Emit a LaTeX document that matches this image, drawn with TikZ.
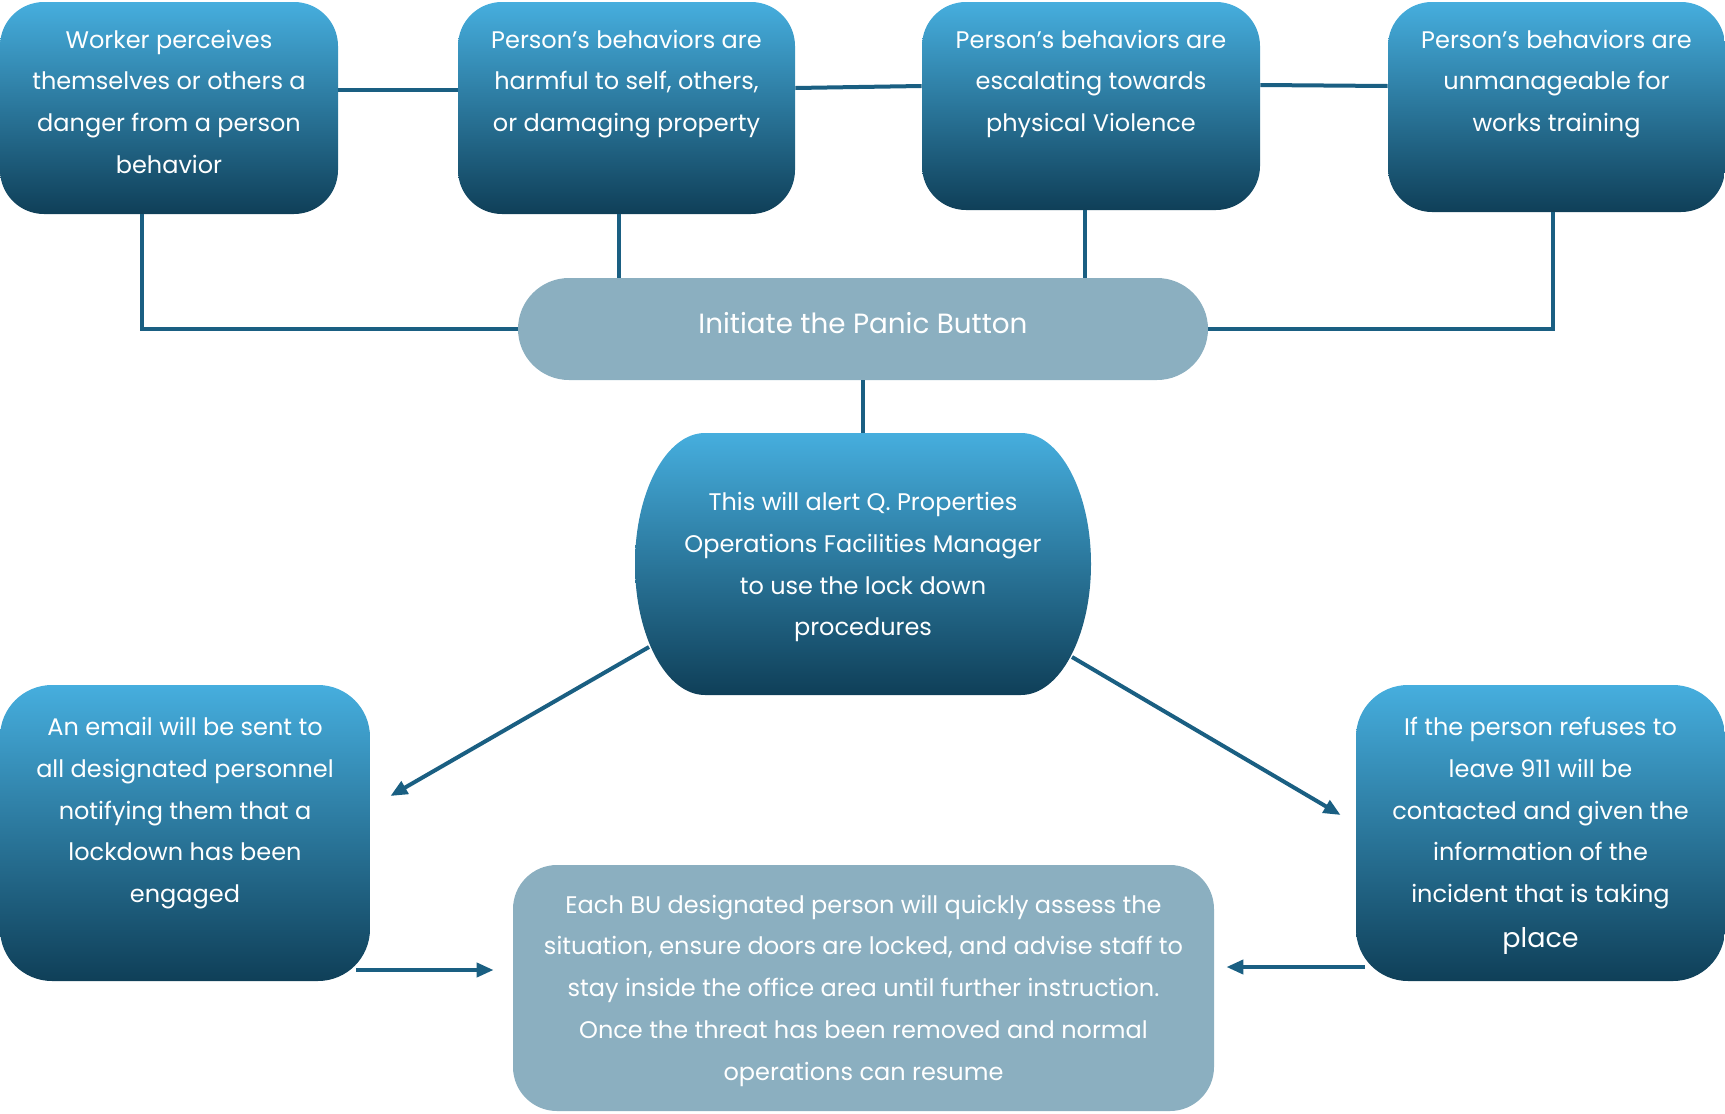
\documentclass[tikz,border=0pt]{standalone}
\usepackage{fontspec}
\setmainfont{Poppins}
\usepackage{xcolor}
\usepackage{tikz}
\usetikzlibrary{arrows.meta,calc}

\definecolor{topblue}{HTML}{46AEDE}
\definecolor{midblue}{HTML}{1E6E93}
\definecolor{botblue}{HTML}{0F3F58}
\definecolor{panelgrey}{HTML}{8BAFC0}
\definecolor{linkblue}{HTML}{1A5F82}

\newcommand{\boxlines}[4]{\parbox[c][#1][t]{#2}{\centering\rule{0pt}{#3}#4}}

\begin{document}
\begin{tikzpicture}[x=0.5pt,y=-0.5pt,>=Latex,
    bluebox/.style={rounded corners=22pt,top color=topblue,middle color=midblue,bottom color=botblue,
      inner sep=0pt,text=white,font=\fontsize{12}{20.9}\selectfont},
    greybox/.style={rounded corners=22pt,fill=panelgrey,inner sep=0pt,text=white,
      font=\fontsize{12}{20.9}\selectfont},
    link/.style={draw=linkblue,line width=2pt},
    arr/.style={link,-{Triangle[length=8.5pt,width=7pt]}}]
  \useasboundingbox (0,0) rectangle (1725,1114);
  \node[bluebox] (b1) at (169,108) {\boxlines{106pt}{169pt}{23pt}{Worker perceives\\themselves or others a\\danger from a person\\behavior}};
  \node[bluebox] (b2) at (626.5,108) {\boxlines{106pt}{168.5pt}{23pt}{Person’s behaviors are\\harmful to self, others,\\or damaging property}};
  \node[bluebox] (b3) at (1091,106) {\boxlines{104pt}{169pt}{23pt}{Person’s behaviors are\\escalating towards\\physical Violence}};
  \node[bluebox] (b4) at (1556.5,107) {\boxlines{105pt}{168.5pt}{23pt}{Person’s behaviors are\\unmanageable for\\works training}};
  \node[rounded corners=25.5pt,fill=panelgrey,text=white,inner sep=0pt,minimum width=345pt,minimum height=51pt,
    font=\fontsize{13.9}{16}\selectfont,text height=10pt,text depth=6pt] (panic) at (863,329) {Initiate the Panic Button};
  \shade[top color=topblue,middle color=midblue,bottom color=botblue]
    (705,433) -- (1021,433) arc[start angle=-90,end angle=90,x radius=70,y radius=131]
    -- (705,695) arc[start angle=90,end angle=270,x radius=70,y radius=131] -- cycle;
  \node[inner sep=0pt,minimum width=228pt,minimum height=131pt,align=center,text=white,
    font=\fontsize{12}{20.9}\selectfont,text depth=-1pt] (alert) at (863,564)
    {This will alert Q. Properties\\Operations Facilities Manager\\to use the lock down\\procedures};
  \node[bluebox,rounded corners=26pt] (email) at (185,833) {\boxlines{148pt}{185pt}{25.2pt}{An email will be sent to\\all designated personnel\\notifying them that a\\lockdown has been\\engaged}};
  \node[bluebox,rounded corners=26pt] (rbox) at (1540.5,833) {\boxlines{148pt}{184.5pt}{25.2pt}{If the person refuses to\\leave 911 will be\\contacted and given the\\information of the\\incident that is taking\\[1.5pt]{\fontsize{13.5}{16}\selectfont place}}};
  \node[greybox] (bu) at (863.5,988) {\boxlines{123pt}{350.5pt}{24pt}{Each BU designated person will quickly assess the\\situation, ensure doors are locked, and advise staff to\\stay inside the office area until further instruction.\\Once the threat has been removed and normal\\operations can resume}};

  \draw[link] ([yshift=9pt]b1.east) -- ([yshift=9pt]b2.west);
  \draw[link] ([yshift=10pt]b2.east) -- ([yshift=10pt]b3.west);
  \draw[link] ([yshift=10.5pt]b3.east) -- ([yshift=10.5pt]b4.west);
  \draw[link] ([xshift=-13.5pt]b1.south) |- (panic.west);
  \draw[link] ([xshift=-4pt]b2.south) -- ([xshift=-4pt]b2.south |- panic.north);
  \draw[link] ([xshift=-3pt]b3.south) -- ([xshift=-3pt]b3.south |- panic.north);
  \draw[link] ([xshift=-2pt]b4.south) |- (panic.east);
  \draw[link] (panic.south) -- (alert.north);

  \coordinate (alertsw) at ($(alert.center)+(-214,83)$);
  \coordinate (alertse) at ($(alert.center)+(209,93)$);
  \coordinate (emailtip) at ($(email.east)+(20,-37)$);
  \coordinate (rboxtip) at ($(rbox.west)+(-15,-18)$);
  \coordinate (bulft) at ($(bu.west)+(-19,-18)$);
  \coordinate (burt) at ($(bu.east)+(12,-21)$);
  \draw[arr] (alertsw) -- (emailtip);
  \draw[arr] (alertse) -- (rboxtip);
  \draw[arr] ([xshift=-7pt]bulft -| email.east) -- (bulft);
  \draw[arr] ([xshift=4.5pt]burt -| rbox.west) -- (burt);
\end{tikzpicture}
\end{document}
